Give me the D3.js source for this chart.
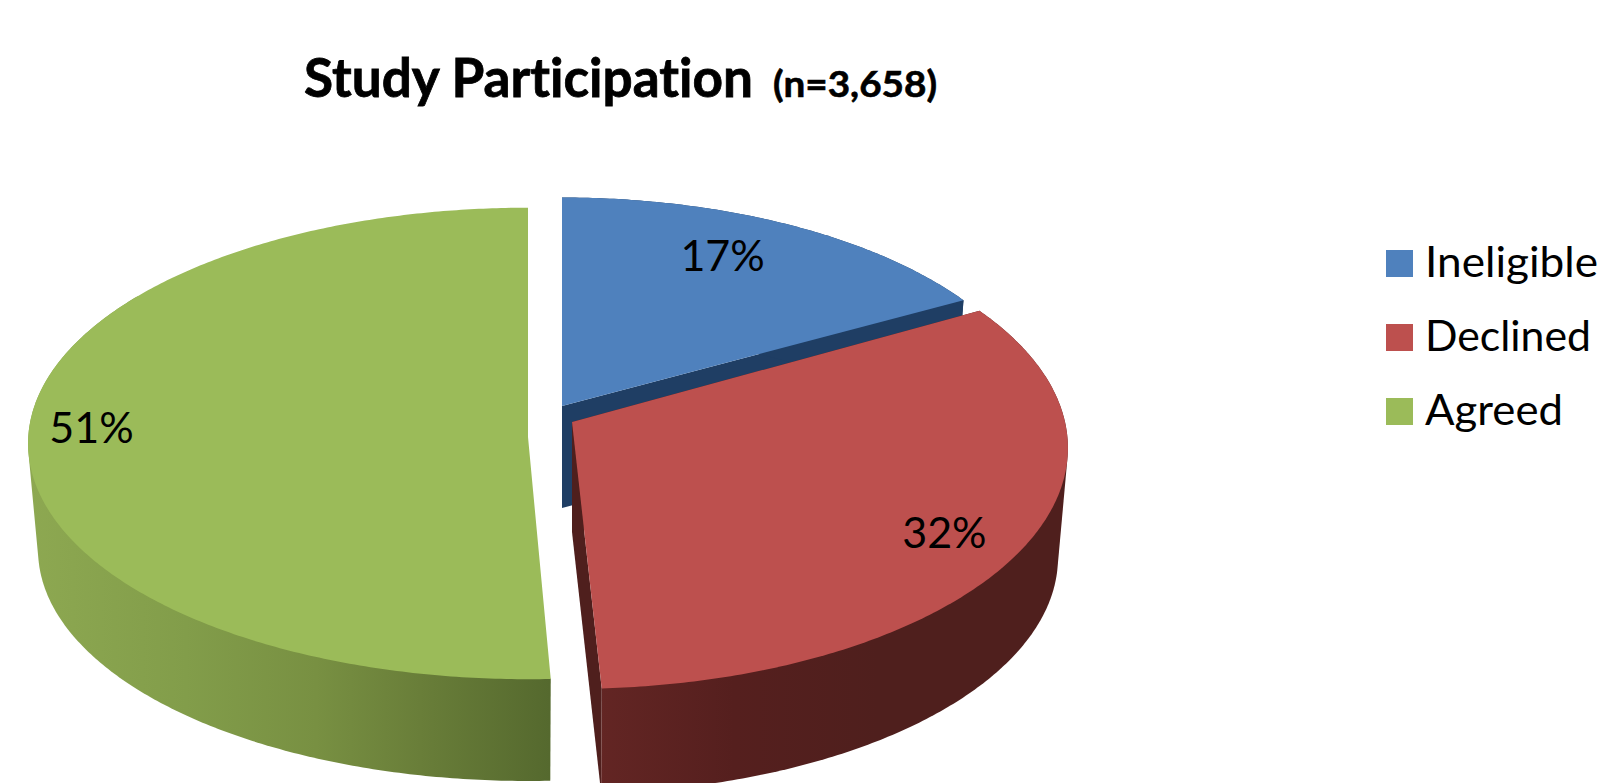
<!DOCTYPE html>
<html>
<head>
<meta charset="utf-8">
<script src="https://cdn.jsdelivr.net/npm/d3@7/dist/d3.min.js"></script>
<style>
html,body{margin:0;padding:0;background:#fff;overflow:hidden}
svg{display:block}
text{font-family:Lato,Carlito,sans-serif;fill:#000;font-variant-ligatures:none;font-feature-settings:"liga" 0}
</style>
</head>
<body>
<svg id="chart" width="1603" height="783"></svg>
<script>
// ---- data ----
const categories = ["Ineligible", "Declined", "Agreed"];
const seriesValues = [17, 32, 51];
const chartTitle = "Study Participation";
const chartSubtitle = "(n=3,658)";

// ---- colours ----
const topColors = d3.scaleOrdinal().domain(categories).range(["#4f81bd", "#bd504e", "#9bbb59"]);
const cutColors = d3.scaleOrdinal().domain(categories).range(["#1f3e64", "#4f1f1d", "#55692e"]);

// ---- exploded-slice geometry (perspective projection of the disc) ----
const persp = 0.108;
const lowerScale = 0.98;
const sliceGeom = {
  Ineligible: {cx: 562, cy: 406, a: 482, b: 231, depth: 102, apexDy: 0, trimStart: 0, trimEnd: 0, sideEnd: 9,
               labelR: 0.72, labelDx: -5, labelDy: -16},
  Declined:   {cx: 572, cy: 422, a: 493, b: 238, depth: 110, apexDy: 0, trimStart: -0.012, trimEnd: -0.009, sideEnd: 9,
               labelR: 0.88, labelDx: -26, labelDy: 5},
  Agreed:     {cx: 528, cy: 418, a: 497, b: 233, depth: 107, apexDy: 19, trimStart: 0.022, trimEnd: 0, sideEnd: 5.3,
               labelR: 0.88, labelDx: 2, labelDy: 4}
};

const svg = d3.select("#chart");
const defs = svg.append("defs");

function addGradient(id, stops, x1, x2) {
  const g = defs.append("linearGradient").attr("id", id)
    .attr("gradientUnits", "userSpaceOnUse")
    .attr("x1", x1).attr("x2", x2).attr("y1", 0).attr("y2", 0);
  g.selectAll("stop").data(stops).join("stop")
    .attr("offset", d => d[0]).attr("stop-color", d => d[1]);
}
addGradient("sideAgreed", [[0, "#8da851"], [0.3, "#829d4a"], [0.55, "#789042"], [0.75, "#697e39"], [1, "#55692e"]], 30, 550);
addGradient("sideDeclined", [[0, "#642624"], [0.3, "#551f1e"], [0.6, "#4f1f1d"], [1, "#4f1f1d"]], 590, 1070);
const sideFill = {Ineligible: "#1f3e64", Declined: "url(#sideDeclined)", Agreed: "url(#sideAgreed)"};

// Project a pie angle + radius on the top (or lower) disc of a slice.
function project(g, theta, r, lower) {
  const u = Math.sin(theta) * r, v = Math.cos(theta) * r;
  const w = 1 + persp * v;
  const s = lower ? lowerScale : 1;
  return [g.cx + s * g.a * u / w, g.cy + (lower ? g.depth : 0) - s * g.b * v / w];
}
function arcPoints(g, t0, t1, lower) {
  const n = Math.max(8, Math.ceil((t1 - t0) / 0.01));
  return d3.range(n + 1).map(i => project(g, t0 + (t1 - t0) * i / n, 1, lower));
}

const pie = d3.pie().sort(null).value(d => d.value);
const slices = pie(categories.map((c, i) => ({name: c, value: seriesValues[i]})));
const poly = d3.line().curve(d3.curveLinear);

slices.forEach(d => {
  const name = d.data.name, g = sliceGeom[name];
  const t0 = d.startAngle + g.trimStart, t1 = d.endAngle - g.trimEnd;
  const apex = [g.cx, g.cy + g.apexDy];
  const apexLow = [g.cx, g.cy + g.apexDy + g.depth];
  const group = svg.append("g").attr("class", "slice");

  // flat cut faces
  if (name !== "Agreed") {
    [t0, t1].forEach(t => {
      const p = project(g, t, 1, false), q = project(g, t, 1, true);
      group.append("path")
        .attr("d", poly([apex, p, q, apexLow]) + "Z")
        .attr("fill", cutColors(name));
    });
  }
  // outer curved side: hull of both rims, so the silhouette runs tangent between them
  const sideTo = Math.min(t1, g.sideEnd);
  const hull = d3.polygonHull(arcPoints(g, t0, sideTo, false).concat(arcPoints(g, t0, sideTo, true)));
  group.append("path")
    .attr("d", poly(hull) + "Z")
    .attr("fill", sideFill[name]);
  // top face
  group.append("path")
    .attr("d", poly([apex].concat(arcPoints(g, t0, t1, false))) + "Z")
    .attr("fill", topColors(name));
});

// data labels
const pct = d3.format(".0%");
svg.append("g").selectAll("text").data(slices).join("text")
  .attr("text-anchor", "middle")
  .attr("font-size", 43)
  .each(function (d) {
    const g = sliceGeom[d.data.name];
    const p = project(g, (d.startAngle + d.endAngle) / 2, g.labelR, false);
    d3.select(this).attr("x", p[0] + g.labelDx).attr("y", p[1] + 15 + g.labelDy);
  })
  .text(d => pct(d.value / 100));

// title
svg.append("text").attr("x", 304).attr("y", 97)
  .attr("font-size", 54).attr("font-weight", 700)
  .attr("stroke", "#000").attr("stroke-width", 0.8)
  .attr("textLength", 449).attr("lengthAdjust", "spacingAndGlyphs")
  .text(chartTitle);
svg.append("text").attr("x", 773).attr("y", 97)
  .attr("font-size", 37).attr("font-weight", 700)
  .attr("stroke", "#000").attr("stroke-width", 0.6)
  .attr("textLength", 164).attr("lengthAdjust", "spacingAndGlyphs")
  .text(chartSubtitle);

// legend
const legendY = d3.scalePoint().domain(categories).range([250, 398]);
const legendWidths = {Ineligible: 173, Declined: 166, Agreed: 138};
const legend = svg.append("g").selectAll("g").data(categories).join("g");
legend.append("rect").attr("x", 1386).attr("y", d => legendY(d))
  .attr("width", 27).attr("height", 27).attr("fill", d => topColors(d));
legend.append("text").attr("x", 1425).attr("y", d => legendY(d) + 27)
  .attr("font-size", 43)
  .attr("textLength", d => legendWidths[d]).attr("lengthAdjust", "spacingAndGlyphs")
  .text(d => d);
</script>
</body>
</html>
